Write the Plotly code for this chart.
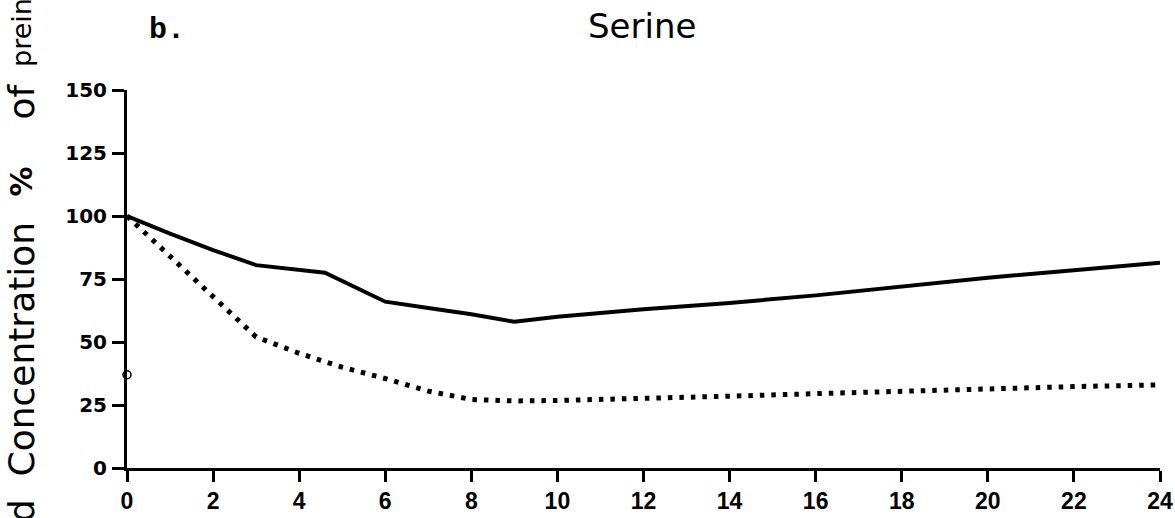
import plotly.graph_objects as go

# ---- data ----
hours_solid = [0, 1, 2, 3, 4.6, 6, 7, 8, 9, 10, 12, 14, 16, 18, 20, 22, 24]
conc_solid = [100, 93, 86.5, 80.5, 77.5, 66, 63.5, 61, 58, 60, 63, 65.5, 68.5, 72, 75.5, 78.5, 81.5]
hours_dotted = [0, 1, 2, 3, 4, 5, 6, 7, 8, 9, 10, 12, 14, 16, 18, 20, 22, 24]
conc_dotted = [100, 84, 67.5, 52, 45.5, 40, 35.5, 30.5, 27.2, 26.6, 26.8, 27.5, 28.5, 29.5, 30.5, 31.5, 32.3, 33]
point_x = [0]
point_y = [37]
x_ticks = list(range(0, 25, 2))
y_ticks = [0, 25, 50, 75, 100, 125, 150]

W, H = 1175, 518
L, R, T, B = 127, 15, 90, 50
PW, PH = W - L - R, H - T - B


def px(xp):
    return (xp - L) / PW


def py(yp):
    return (H - B - yp) / PH


fig = go.Figure()
fig.add_trace(go.Scatter(x=hours_solid, y=conc_solid, mode="lines",
                         line=dict(color="black", width=4), hoverinfo="skip"))
fig.add_trace(go.Scatter(x=hours_dotted, y=conc_dotted, mode="lines",
                         line=dict(color="black", width=5, dash="4.5px,7px"), hoverinfo="skip"))
fig.add_trace(go.Scatter(x=point_x, y=point_y, mode="markers", cliponaxis=False,
                         marker=dict(symbol="circle-open", size=8, color="black",
                                     line=dict(width=1.5, color="black")),
                         hoverinfo="skip"))

fig.update_layout(
    width=W, height=H,
    margin=dict(l=L, r=R, t=T, b=B, autoexpand=False),
    paper_bgcolor="white", plot_bgcolor="white",
    showlegend=False,
)
fig.update_xaxes(range=[0, 24], tickvals=x_ticks, ticktext=[str(v) for v in x_ticks],
                 showgrid=False, zeroline=False, showline=True, linecolor="black",
                 linewidth=2.5, ticks="outside", ticklen=11, tickwidth=2.5,
                 tickcolor="black", ticklabeloverflow="allow", ticklabelstandoff=0,
                 automargin=False,
                 tickfont=dict(family="Liberation Sans", size=23,
                               color="black", weight="bold"))
fig.update_yaxes(range=[0, 150], tickvals=y_ticks, ticktext=[str(v) for v in y_ticks],
                 showgrid=False, zeroline=False, showline=True, linecolor="black",
                 linewidth=3, ticks="outside", ticklen=12, tickwidth=2.5,
                 tickcolor="black", ticklabelstandoff=1, automargin=False,
                 tickfont=dict(family="DejaVu Sans", size=20, color="black", weight="bold"))

ann = []
ann.append(dict(text="Serine", x=px(642), y=py(26), xref="paper", yref="paper",
                showarrow=False, xanchor="center", yanchor="middle",
                font=dict(family="DejaVu Sans", size=34, color="black")))
ann.append(dict(text="b.", x=px(167), y=py(30), xref="paper", yref="paper",
                showarrow=False, xanchor="center", yanchor="middle",
                font=dict(family="Liberation Mono", size=30, color="black", weight="bold")))
for word, yc, size, wt in [("d", 511, 36, "normal"), ("Concentration", 349.5, 36, "normal"),
                           ("%", 181.5, 30, "bold"), ("of", 101.5, 36, "normal"),
                           ("prein", 33, 27, "normal")]:
    ann.append(dict(text=word, x=px(21), y=py(yc), xref="paper", yref="paper",
                    showarrow=False, textangle=-90, xanchor="center", yanchor="middle",
                    font=dict(family="DejaVu Sans", size=size, color="black", weight=wt)))
fig.update_layout(annotations=ann)

fig.write_html("out.html")
